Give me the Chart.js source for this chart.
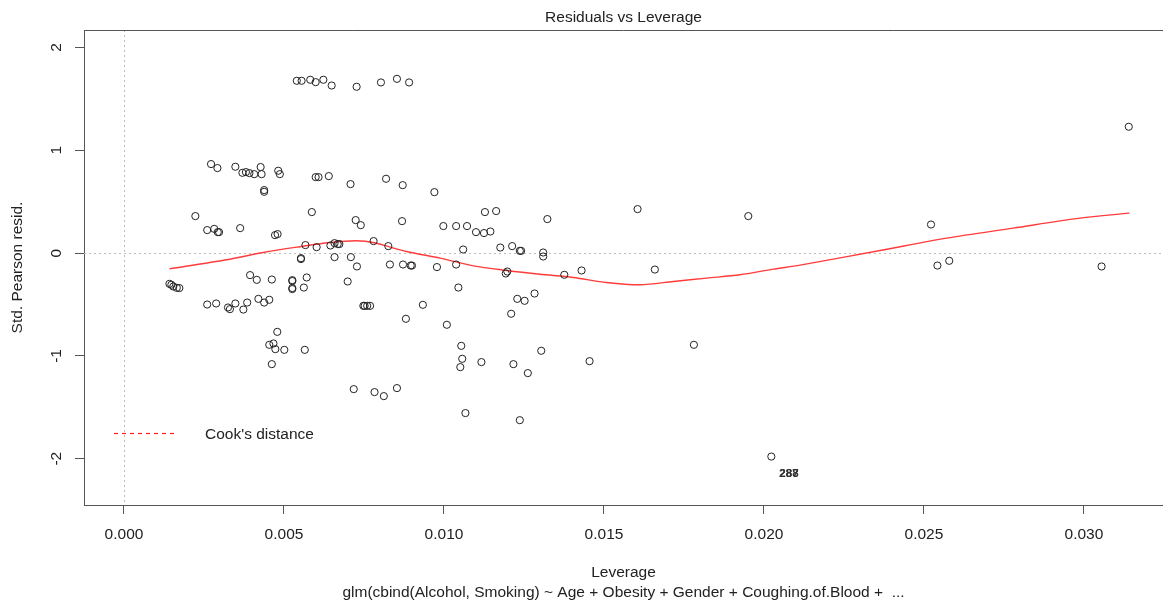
<!DOCTYPE html>
<html>
<head>
<meta charset="utf-8">
<script src="https://cdn.jsdelivr.net/npm/chart.js@4.4.0/dist/chart.umd.min.js"></script>
<style>
  html, body { margin: 0; padding: 0; background: #fff; overflow: hidden; }
  #wrap { width: 1163px; height: 604px; }
</style>
</head>
<body>
<div id="wrap"><canvas id="myChart"></canvas></div>
<script>
// leverage / std. pearson residual pairs
var leverage = [
  0.00540, 0.00555, 0.00582, 0.00599, 0.00623, 0.00649, 0.00727, 0.00803, 0.00853, 0.00891,
  0.00272, 0.00292, 0.00348, 0.00370, 0.00381, 0.00392, 0.00407, 0.00427, 0.00430, 0.00482,
  0.00487, 0.00438, 0.00438, 0.00599, 0.00608, 0.00640, 0.00708, 0.00819, 0.00871, 0.00970,
  0.00223, 0.00260, 0.00282, 0.00293, 0.00297, 0.00363, 0.00472, 0.00480, 0.00587, 0.00724,
  0.00740, 0.00567, 0.00602, 0.00645, 0.00658, 0.00668, 0.00673, 0.00869, 0.00998, 0.01038,
  0.01072, 0.01100, 0.01125, 0.01145, 0.01128, 0.01163, 0.01323, 0.00780, 0.00826, 0.01060,
  0.01176, 0.01213, 0.01237, 0.01241, 0.01310, 0.01310, 0.00709, 0.01605, 0.01951, 0.02522,
  0.03140,
  0.00553, 0.00553, 0.00658, 0.00728, 0.00142, 0.00148, 0.00154, 0.00165, 0.00173, 0.00394,
  0.00415, 0.00462, 0.00526, 0.00526, 0.00571, 0.00562, 0.00526, 0.00526, 0.00699, 0.00831,
  0.00872, 0.00896, 0.00900, 0.00978, 0.01038, 0.01193, 0.01198, 0.01045, 0.01376, 0.01430,
  0.01659, 0.02542, 0.02579, 0.03055,
  0.00260, 0.00288, 0.00325, 0.00331, 0.00348, 0.00373, 0.00385, 0.00420, 0.00438, 0.00454,
  0.00748, 0.00752, 0.00760, 0.00769, 0.00934, 0.01229, 0.01252, 0.01283, 0.01210, 0.00881,
  0.01009, 0.00479, 0.00454, 0.00467, 0.00473, 0.00501, 0.00565, 0.00462, 0.01054, 0.01057,
  0.01051, 0.01117, 0.01217, 0.01262, 0.01304, 0.01455, 0.01781, 0.00718, 0.00783, 0.00812,
  0.00853, 0.01067, 0.01237, 0.02023
];
var resid = [
  1.676, 1.676, 1.686, 1.663, 1.686, 1.630, 1.618, 1.660, 1.695, 1.660,
  0.866, 0.827, 0.840, 0.781, 0.788, 0.778, 0.768, 0.837, 0.768, 0.801,
  0.768, 0.613, 0.596, 0.739, 0.739, 0.749, 0.671, 0.723, 0.661, 0.593,
  0.360, 0.224, 0.236, 0.204, 0.204, 0.243, 0.175, 0.185, 0.399, 0.321,
  0.272, 0.078, 0.058, 0.074, 0.097, 0.088, 0.088, 0.311, 0.263, 0.263,
  0.263, 0.204, 0.195, 0.210, 0.399, 0.409, 0.331, 0.117, 0.068, 0.035,
  0.054, 0.068, 0.022, 0.022, 0.006, -0.033, -0.039, 0.428, 0.360, 0.278,
  1.229,
  -0.049, -0.058, -0.039, -0.130, -0.299, -0.308, -0.325, -0.338, -0.340, -0.214,
  -0.260, -0.257, -0.263, -0.272, -0.237, -0.335, -0.340, -0.350, -0.276, -0.111,
  -0.111, -0.121, -0.121, -0.136, -0.111, -0.198, -0.179, -0.335, -0.211, -0.169,
  -0.160, -0.121, -0.075, -0.130,
  -0.500, -0.490, -0.529, -0.545, -0.490, -0.549, -0.481, -0.445, -0.481, -0.454,
  -0.513, -0.513, -0.513, -0.513, -0.503, -0.445, -0.464, -0.393, -0.590, -0.639,
  -0.697, -0.766, -0.892, -0.879, -0.934, -0.941, -0.941, -1.080, -0.902, -1.028,
  -1.109, -1.060, -1.080, -1.167, -0.950, -1.051, -0.892, -1.323, -1.352, -1.391,
  -1.313, -1.556, -1.625, -1.979
];

// red smoother
var smoothX = [0.00142, 0.00321, 0.00435, 0.00540, 0.00644, 0.00727, 0.00779, 0.00883, 0.00988,
  0.01092, 0.01196, 0.01300, 0.01404, 0.01508, 0.01613, 0.01717, 0.01821, 0.01925, 0.02029,
  0.02113, 0.02363, 0.02571, 0.02779, 0.02988, 0.03142];
var smoothY = [-0.153, -0.065, 0.006, 0.058, 0.103, 0.120, 0.103, 0.016, -0.049,
  -0.124, -0.169, -0.206, -0.237, -0.286, -0.308, -0.276, -0.243, -0.211, -0.156,
  -0.117, 0.025, 0.146, 0.243, 0.340, 0.389];

// labelled observations
var obsLabels = ["287", "288"];
var obsX = [0.02078, 0.02078];
var obsY = [-2.15, -2.15];

var xMin = -0.00125, xMax = 0.03247;
var yMin = -2.45, yMax = 2.17;

var points = leverage.map(function (v, i) { return { x: v, y: resid[i] } });
var smooth = smoothX.map(function (v, i) { return { x: v, y: smoothY[i] } });

var FONT = "'Liberation Sans', Arial, sans-serif";
var ink = '#222';

var rPlot = {
  id: 'rPlot',
  beforeDatasetsDraw: function (chart) {
    var ctx = chart.ctx, a = chart.chartArea;
    var xs = chart.scales.x, ys = chart.scales.y;
    ctx.save();
    ctx.strokeStyle = '#bdbdbd';
    ctx.lineWidth = 1;
    ctx.setLineDash([2, 3]);
    var x0 = Math.round(xs.getPixelForValue(0)) + 0.5;
    var y0 = Math.round(ys.getPixelForValue(0)) + 0.5;
    ctx.beginPath();
    ctx.moveTo(x0, a.top); ctx.lineTo(x0, a.bottom);
    ctx.moveTo(a.left, y0); ctx.lineTo(a.right, y0);
    ctx.stroke();
    ctx.restore();
  },
  afterDraw: function (chart) {
    var ctx = chart.ctx, a = chart.chartArea;
    var xs = chart.scales.x, ys = chart.scales.y;
    ctx.save();
    // top edge of the box
    ctx.strokeStyle = '#555';
    ctx.lineWidth = 1;
    ctx.beginPath();
    ctx.moveTo(a.left, a.top + 0.5); ctx.lineTo(a.right, a.top + 0.5);
    ctx.stroke();

    // rotated y tick labels, like R's las=0
    ctx.fillStyle = ink;
    ctx.font = '15.5px ' + FONT;
    ctx.textAlign = 'center';
    ctx.textBaseline = 'middle';
    ys.ticks.forEach(function (t) {
      ctx.save();
      ctx.translate(57, ys.getPixelForValue(t.value));
      ctx.rotate(-Math.PI / 2);
      ctx.fillText(String(t.value), 0, 0);
      ctx.restore();
    });

    // labelled points
    ctx.font = 'bold 11.5px ' + FONT;
    ctx.fillStyle = '#333';
    obsLabels.forEach(function (s, i) {
      ctx.fillText(s, xs.getPixelForValue(obsX[i]), ys.getPixelForValue(obsY[i]));
    });

    // legend
    ctx.strokeStyle = '#ff2020';
    ctx.lineWidth = 1.2;
    ctx.setLineDash([4, 4]);
    ctx.beginPath();
    ctx.moveTo(114, 433.5); ctx.lineTo(178, 433.5);
    ctx.stroke();
    ctx.setLineDash([]);
    ctx.fillStyle = ink;
    ctx.font = '15.5px ' + FONT;
    ctx.textAlign = 'left';
    ctx.fillText("Cook's distance", 205, 435);
    ctx.restore();
  }
};

var chart = new Chart("myChart", {
  type: "scatter",
  data: {
    datasets: [{
      data: points,
      pointStyle: 'circle',
      pointRadius: 3.6,
      pointHoverRadius: 3.6,
      pointBorderWidth: 1,
      pointBackgroundColor: 'rgba(0,0,0,0)',
      pointBorderColor: '#222',
      showLine: false
    }, {
      data: smooth,
      showLine: true,
      borderColor: 'rgb(255,60,60)',
      borderWidth: 1.4,
      pointRadius: 0,
      tension: 0.3,
      fill: false
    }]
  },
  plugins: [rPlot],
  options: {
    responsive: true,
    maintainAspectRatio: false,
    animation: false,
    devicePixelRatio: 1,
    layout: { padding: 0, autoPadding: false },
    plugins: {
      legend: { display: false },
      tooltip: { enabled: false },
      title: {
        display: true,
        text: "Residuals vs Leverage",
        fullSize: false,
        color: ink,
        font: { family: FONT, size: 15.5, weight: 'normal' },
        padding: { top: 8, bottom: 3.4 }
      }
    },
    scales: {
      x: {
        type: 'linear',
        min: xMin,
        max: xMax,
        afterFit: function (s) { s.height = 99 },
        border: { display: true, color: '#555', width: 1 },
        grid: { drawOnChartArea: false, drawTicks: true, tickLength: 9, color: '#555' },
        ticks: {
          stepSize: 0.005,
          includeBounds: false,
          maxRotation: 0,
          autoSkip: false,
          padding: 11,
          color: ink,
          font: { family: FONT, size: 15.5 },
          callback: function (v) { return v.toFixed(3) }
        },
        title: {
          display: true,
          text: ["Leverage", "glm(cbind(Alcohol, Smoking) ~ Age + Obesity + Gender + Coughing.of.Blood +  ..."],
          color: ink,
          font: { family: FONT, size: 15.5, lineHeight: 1.27 },
          padding: { top: 0, bottom: 1.5 }
        }
      },
      y: {
        type: 'linear',
        min: yMin,
        max: yMax,
        afterFit: function (s) { s.width = 84 },
        border: { display: true, color: '#555', width: 1 },
        grid: { drawOnChartArea: false, drawTicks: true, tickLength: 9, color: '#555' },
        ticks: {
          stepSize: 1,
          includeBounds: false,
          display: false
        },
        title: {
          display: true,
          text: "Std. Pearson resid.",
          color: ink,
          font: { family: FONT, size: 15.5, lineHeight: 1.27 },
          padding: { top: 8.2, bottom: 0 }
        }
      }
    }
  }
});
</script>
</body>
</html>
